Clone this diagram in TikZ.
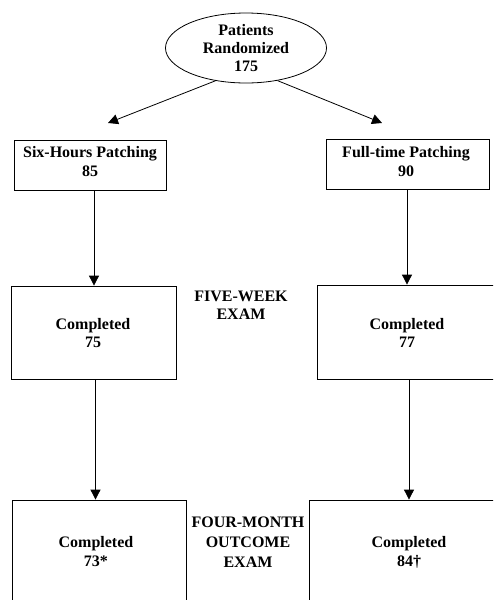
\documentclass[tikz,border=0pt]{standalone}
\usepackage{fontspec}
\setmainfont{Liberation Serif}
\usetikzlibrary{shapes.geometric,arrows.meta}
\begin{document}
\begin{tikzpicture}[x=1pt,y=-1pt,
  box/.style={draw, line width=0.8pt, inner sep=0pt},
  txt/.style={font=\fontsize{16}{19}\selectfont\bfseries, align=center, inner sep=0pt},
  ovalbox/.style={ellipse, draw, line width=0.8pt, inner sep=0pt, minimum width=161pt, minimum height=70pt,
    font=\fontsize{16}{18}\selectfont\bfseries, align=center},
  arr/.style={line width=0.8pt, -{Triangle[length=10pt,width=10pt]}}
]
\useasboundingbox (0,0) rectangle (493,600);
\clip (0,0) rectangle (493,600);

% oval
\node[ovalbox] (rand) at (246,48) {Patients\\Randomized\\175};

% boxes
\node[box, minimum width=152pt, minimum height=50pt] (tl) at (90,165) {};
\node[box, minimum width=163pt, minimum height=50pt] (tr) at (407.5,164) {};
\node[box, minimum width=165pt, minimum height=93pt] (ml) at (93.5,332.5) {};
\node[box, minimum width=193pt, minimum height=94pt] (mr) at (413.5,332) {};
\node[box, minimum width=174pt, minimum height=120pt] (bl) at (99,560) {};
\node[box, minimum width=201pt, minimum height=120pt] (br) at (409.5,560) {};

% texts
\node[txt] (ttl) at (90,162) {Six-Hours Patching\\85};
\node[txt] (ttr) at (406,162) {Full-time Patching\\90};
\node[txt, font=\fontsize{16}{18}\selectfont\bfseries] (tml) at (93,333) {Completed\\75};
\node[txt, font=\fontsize{16}{18}\selectfont\bfseries] (tmr) at (407,333) {Completed\\77};
\node[txt] (tbl) at (96,552) {Completed\\73*};
\node[txt] (tbr) at (409,552) {Completed\\84†};
\node[txt, font=\fontsize{16}{18}\selectfont\bfseries] (fw) at (241,305) {FIVE-WEEK\\EXAM};
\node[txt, font=\fontsize{16}{20}\selectfont\bfseries] (fm) at (248,542) {FOUR-MONTH\\OUTCOME\\EXAM};

% arrow end points
\coordinate (lt) at (108,123);
\coordinate (rt) at (382,123);

\draw[arr] (rand.227) -- (lt);
\draw[arr] (rand.314) -- (rt);
\draw[arr] ([xshift=4pt]tl.south) -- ([xshift=0.5pt]ml.north);
\draw[arr] ([xshift=-0.5pt]tr.south) -- ([xshift=-6.5pt]mr.north);
\draw[arr] ([xshift=2pt]ml.south) -- ([xshift=-3.5pt]bl.north);
\draw[arr] ([xshift=-4.5pt]mr.south) -- ([xshift=-0.5pt]br.north);
\end{tikzpicture}
\end{document}
